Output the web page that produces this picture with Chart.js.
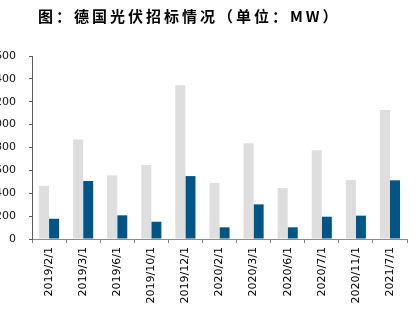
<!DOCTYPE html>
<html>
<head>
<meta charset="utf-8">
<script src="https://cdn.jsdelivr.net/npm/chart.js@4"></script>
<style>
  html, body { margin: 0; padding: 0; background: #fff; overflow: hidden; }
  #wrap { position: absolute; left: -20px; top: 0; width: 438px; height: 323px; }
</style>
</head>
<body>
<div id="wrap"><canvas id="chart" width="438" height="323"></canvas></div>
<script>
// data (MW)
const title = "图：德国光伏招标情况（单位：MW）";
const categories = ["2019/2/1", "2019/3/1", "2019/6/1", "2019/10/1", "2019/12/1", "2020/2/1",
  "2020/3/1", "2020/6/1", "2020/7/1", "2020/11/1", "2021/7/1"];
const bids = [465, 871, 556, 646, 1345, 489, 838, 445, 777, 515, 1127];
const tendered = [177, 507, 207, 151, 550, 102, 303, 102, 195, 204, 513];
const yTicks = [0, 200, 400, 600, 800, 1000, 1200, 1400, 1600];

// title drawn left of centre like the source picture
const titlePlugin = {
  id: "leftTitle",
  afterDraw: function (chart) {
    var ctx = chart.ctx;
    ctx.save();
    ctx.font = 'bold 15px "Noto Sans CJK SC"';
    ctx.letterSpacing = "3px";
    ctx.fillStyle = "#000";
    ctx.textBaseline = "middle";
    ctx.textAlign = "left";
    ctx.fillText(title, 58, 16);
    ctx.restore();
  },
};

var ctx = document.getElementById("chart").getContext("2d");
var myChart = new Chart(ctx, {
  type: "bar",
  data: {
    labels: categories,
    datasets: [
      {
        label: "投标量",
        data: bids,
        backgroundColor: "#dedede",
        barPercentage: 1,
        categoryPercentage: 0.59,
      },
      {
        label: "招标量",
        data: tendered,
        backgroundColor: "#005587",
        barPercentage: 1,
        categoryPercentage: 0.59,
      },
    ],
  },
  options: {
    responsive: false,
    animation: false,
    layout: { padding: { top: 56, right: 11, left: 0, bottom: 0 } },
    plugins: {
      legend: { display: false },
      tooltip: { enabled: false },
      title: { display: false },
    },
    scales: {
      x: {
        afterFit: function (scale) { scale.height = 84; },
        grid: { offset: true, drawOnChartArea: false, drawTicks: true, tickLength: 4, color: "#7f7f7f" },
        border: { color: "#8c8c8c", width: 1 },
        ticks: {
          minRotation: 90,
          maxRotation: 90,
          padding: 4,
          color: "#000",
          font: { family: "DejaVu Sans", size: 11 },
        },
      },
      y: {
        min: 0,
        max: 1600,
        afterFit: function (scale) { scale.width = 52; },
        afterBuildTicks: function (scale) {
          scale.ticks = yTicks.map(function (v) { return { value: v }; });
        },
        grid: { drawOnChartArea: false, drawTicks: true, tickLength: 3, color: "#595959" },
        border: { color: "#595959", width: 1 },
        ticks: {
          padding: 13,
          color: "#111",
          font: { family: "DejaVu Sans", size: 11 },
        },
      },
    },
  },
  plugins: [titlePlugin],
});
</script>
</body>
</html>
